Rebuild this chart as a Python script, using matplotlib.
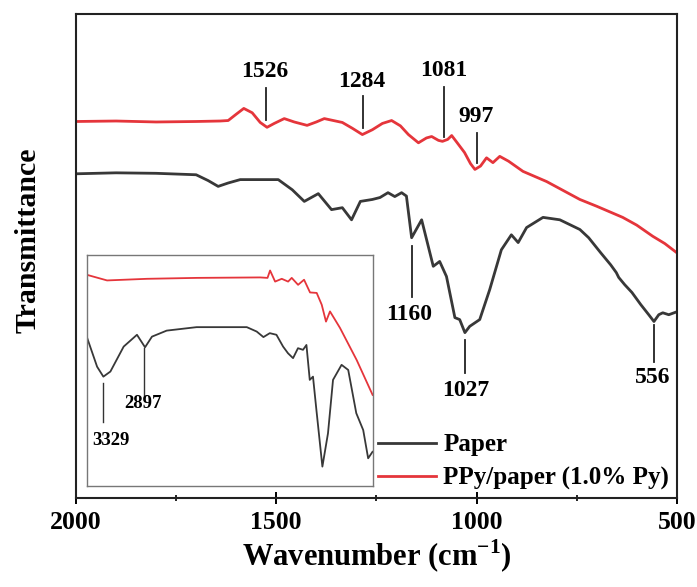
import matplotlib

matplotlib.use("Agg")
import matplotlib.pyplot as plt
from matplotlib.ticker import FixedLocator

plt.rcParams["font.family"] = ["Liberation Serif", "DejaVu Serif"]
plt.rcParams["font.weight"] = "bold"
plt.rcParams["mathtext.fontset"] = "custom"
plt.rcParams["mathtext.rm"] = "Liberation Serif"
plt.rcParams["mathtext.bf"] = "Liberation Serif:bold"

# -- data (transmittance in arbitrary units) ----------------------------------

paper_wn = [2000, 1900, 1800, 1700, 1670, 1645, 1620, 1590, 1495, 1460, 1430,
            1395, 1362, 1335, 1312, 1290, 1260, 1241, 1221, 1204, 1187, 1175,
            1162, 1137, 1108, 1092, 1075, 1054, 1042, 1029, 1017, 992, 967,
            938, 913, 896, 875, 834, 792, 742, 720, 690, 665, 651, 645, 630,
            612, 590, 570, 557, 545, 535, 520, 500]
paper_t = [66.9, 67.1, 67.0, 66.7, 65.5, 64.3, 65.0, 65.7, 65.7, 63.6, 61.2,
           62.8, 59.5, 59.9, 57.4, 61.2, 61.6, 62.0, 63.0, 62.2, 63.0, 62.3,
           53.7, 57.4, 47.8, 48.8, 45.7, 37.2, 36.8, 34.1, 35.4, 36.8, 43.0,
           51.2, 54.3, 52.7, 55.8, 57.9, 57.4, 55.4, 53.7, 50.6, 48.1, 46.5,
           45.5, 44.0, 42.4, 39.9, 37.8, 36.4, 37.8, 38.2, 37.8, 38.4]

ppy_wn = [2000, 1900, 1800, 1700, 1640, 1620, 1600, 1581, 1560, 1540, 1523,
          1505, 1480, 1455, 1423, 1400, 1380, 1335, 1310, 1285, 1260, 1235,
          1212, 1190, 1170, 1145, 1125, 1112, 1095, 1085, 1072, 1062, 1050,
          1030, 1015, 1004, 990, 975, 959, 942, 920, 884, 825, 742, 700, 635,
          600, 560, 530, 500]
ppy_t = [77.7, 77.8, 77.6, 77.7, 77.8, 77.9, 79.2, 80.4, 79.5, 77.5, 76.5,
         77.3, 78.3, 77.6, 76.9, 77.6, 78.3, 77.5, 76.3, 75.0, 76.0, 77.3,
         77.9, 76.8, 75.0, 73.3, 74.3, 74.6, 73.8, 73.6, 74.0, 74.8, 73.5,
         71.3, 69.0, 67.8, 68.5, 70.2, 69.2, 70.5, 69.5, 67.4, 65.3, 61.6,
         60.2, 57.9, 56.3, 54.0, 52.5, 50.6]

# inset: full range spectra
ins_paper_wn = [3500, 3395, 3329, 3255, 3115, 2975, 2890, 2817, 2662, 2347,
                1818, 1714, 1643, 1576, 1506, 1436, 1384, 1331, 1279, 1226,
                1190, 1155, 1121, 1085, 1022, 963, 910, 820, 750, 665, 592,
                540, 494]
ins_paper_t = [64.1, 51.6, 47.3, 49.5, 60.3, 65.4, 60.0, 64.6, 67.2, 68.7,
               68.7, 66.8, 64.4, 66.1, 65.4, 60.3, 57.4, 55.3, 59.6, 58.9,
               61.0, 45.9, 47.3, 32.9, 8.4, 22.8, 45.9, 52.4, 50.2, 31.5, 24.2,
               12.0, 14.8]
ins_ppy_wn = [3500, 3290, 2870, 2344, 1678, 1600, 1573, 1520, 1450, 1383,
              1345, 1278, 1215, 1152, 1082, 1029, 984, 942, 837, 661, 493]
ins_ppy_t = [91.3, 88.9, 89.6, 90.0, 90.2, 90.0, 93.2, 88.4, 89.6, 88.4,
             90.0, 87.0, 89.2, 83.7, 83.5, 78.4, 71.1, 75.5, 68.4, 54.5, 39.4]

# peak markers: (label, x of line, line bottom, line top, text x, text y)
main_peaks = [
    ("1526", 1526, 78.1, 84.7, 1528, 88.0),
    ("1284", 1284, 76.4, 82.9, 1286, 86.0),
    ("1081", 1081, 74.4, 84.9, 1082, 88.2),
    ("997", 1000, 69.2, 75.4, 1002, 78.7),
    ("1160", 1162, 41.5, 51.9, 1169, 37.8),
    ("1027", 1029, 25.8, 32.6, 1027, 22.1),
    ("556", 557, 28.1, 35.7, 560, 24.8),
]
inset_peaks = [
    ("3329", 3329, 27.7, 44.6, 3245, 19.9),
    ("2897", 2897, 38.5, 59.7, 2908, 35.5),
]

BLACK = "#383838"
RED = "#e5353b"

fig = plt.figure(figsize=(6.97, 5.87), dpi=100)
ax = fig.add_axes([0.109, 0.152, 0.862, 0.825])

ax.plot(paper_wn, paper_t, color=BLACK, lw=2.0, label="Paper")
ax.plot(ppy_wn, ppy_t, color=RED, lw=2.0, label="PPy/paper (1.0% Py)")

for lab, x, y0, y1, tx, ty in main_peaks:
    ax.plot([x, x], [y0, y1], color="#222222", lw=1.3)
    ax.text(tx, ty, lab, ha="center", va="center", fontsize=17, fontweight="bold")

ax.set_xlim(2000, 500)
ax.set_ylim(0, 100)
ax.set_yticks([])
ax.xaxis.set_major_locator(FixedLocator([2000, 1500, 1000, 500]))
ax.xaxis.set_minor_locator(FixedLocator([1750, 1250, 750]))
ax.tick_params(axis="x", which="major", direction="inout", length=9, width=1.4,
               labelsize=18.5, pad=5)
ax.tick_params(axis="x", which="minor", direction="inout", length=5, width=1.2)
for lbl in ax.get_xticklabels():
    lbl.set_fontweight("bold")
for s in ax.spines.values():
    s.set_linewidth(1.5)
    s.set_color("#222222")

ax.set_xlabel(r"Wavenumber (cm$^{\mathbf{-1}}$)", fontsize=22, fontweight="bold",
              labelpad=3)
fig.text(0.040, 0.591, "Transmittance", rotation=90, ha="center", va="center",
         fontsize=21.5, fontweight="bold")

ax.legend(loc="lower right", bbox_to_anchor=(1.0, 0.0), frameon=False,
          fontsize=18, handlelength=2.3, handletextpad=0.3, labelspacing=0.42,
          borderaxespad=0.1, borderpad=0.2)

# -- inset ---------------------------------------------------------------------
ins = fig.add_axes([0.125, 0.172, 0.410, 0.394])
ins.plot(ins_paper_wn, ins_paper_t, color=BLACK, lw=1.3)
ins.plot(ins_ppy_wn, ins_ppy_t, color=RED, lw=1.3)
for lab, x, y0, y1, tx, ty in inset_peaks:
    ins.plot([x, x], [y0, y1], color="#333333", lw=1.0)
    ins.text(tx, ty, lab, ha="center", va="center", fontsize=13.5,
             fontweight="bold")
ins.set_xlim(3500, 490)
ins.set_ylim(0, 100)
ins.set_xticks([])
ins.set_yticks([])
for s in ins.spines.values():
    s.set_linewidth(1.0)
    s.set_color("#777777")

fig.savefig("out.png", dpi=100)
